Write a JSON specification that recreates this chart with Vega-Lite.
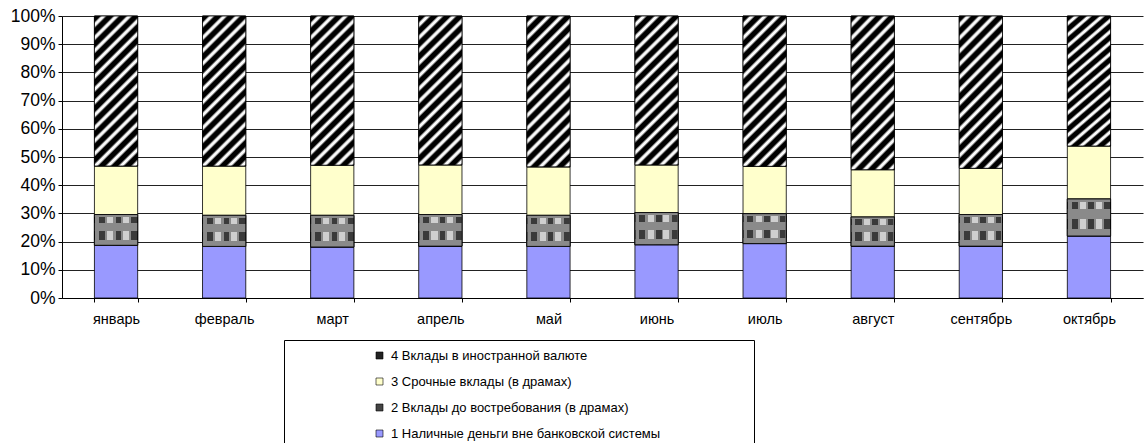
{
  "$schema": "https://vega.github.io/schema/vega-lite/v6.json",
  "width": 1081,
  "height": 282,
  "autosize": {"type": "none"},
  "padding": {"left": 62, "top": 16, "right": 1, "bottom": 145},
  "background": "#ffffff",
  "config": {"view": {"stroke": null}, "font": "Liberation Sans"},
  "data": {"values": [
    {"m": "январь", "k": 1, "s": "1 Наличные деньги вне банковской системы", "v": 18.7},
    {"m": "январь", "k": 2, "s": "2 Вклады до востребования (в драмах)", "v": 10.9},
    {"m": "январь", "k": 3, "s": "3 Срочные вклады (в драмах)", "v": 17.2},
    {"m": "январь", "k": 4, "s": "4 Вклады в иностранной валюте", "v": 53.2},
    {"m": "февраль", "k": 1, "s": "1 Наличные деньги вне банковской системы", "v": 18.3},
    {"m": "февраль", "k": 2, "s": "2 Вклады до востребования (в драмах)", "v": 11.0},
    {"m": "февраль", "k": 3, "s": "3 Срочные вклады (в драмах)", "v": 17.5},
    {"m": "февраль", "k": 4, "s": "4 Вклады в иностранной валюте", "v": 53.2},
    {"m": "март", "k": 1, "s": "1 Наличные деньги вне банковской системы", "v": 18.1},
    {"m": "март", "k": 2, "s": "2 Вклады до востребования (в драмах)", "v": 11.2},
    {"m": "март", "k": 3, "s": "3 Срочные вклады (в драмах)", "v": 17.8},
    {"m": "март", "k": 4, "s": "4 Вклады в иностранной валюте", "v": 52.9},
    {"m": "апрель", "k": 1, "s": "1 Наличные деньги вне банковской системы", "v": 18.4},
    {"m": "апрель", "k": 2, "s": "2 Вклады до востребования (в драмах)", "v": 11.2},
    {"m": "апрель", "k": 3, "s": "3 Срочные вклады (в драмах)", "v": 17.6},
    {"m": "апрель", "k": 4, "s": "4 Вклады в иностранной валюте", "v": 52.8},
    {"m": "май", "k": 1, "s": "1 Наличные деньги вне банковской системы", "v": 18.3},
    {"m": "май", "k": 2, "s": "2 Вклады до востребования (в драмах)", "v": 11.0},
    {"m": "май", "k": 3, "s": "3 Срочные вклады (в драмах)", "v": 17.2},
    {"m": "май", "k": 4, "s": "4 Вклады в иностранной валюте", "v": 53.5},
    {"m": "июнь", "k": 1, "s": "1 Наличные деньги вне банковской системы", "v": 18.9},
    {"m": "июнь", "k": 2, "s": "2 Вклады до востребования (в драмах)", "v": 11.4},
    {"m": "июнь", "k": 3, "s": "3 Срочные вклады (в драмах)", "v": 16.9},
    {"m": "июнь", "k": 4, "s": "4 Вклады в иностранной валюте", "v": 52.8},
    {"m": "июль", "k": 1, "s": "1 Наличные деньги вне банковской системы", "v": 19.3},
    {"m": "июль", "k": 2, "s": "2 Вклады до востребования (в драмах)", "v": 10.6},
    {"m": "июль", "k": 3, "s": "3 Срочные вклады (в драмах)", "v": 16.8},
    {"m": "июль", "k": 4, "s": "4 Вклады в иностранной валюте", "v": 53.3},
    {"m": "август", "k": 1, "s": "1 Наличные деньги вне банковской системы", "v": 18.4},
    {"m": "август", "k": 2, "s": "2 Вклады до востребования (в драмах)", "v": 10.3},
    {"m": "август", "k": 3, "s": "3 Срочные вклады (в драмах)", "v": 16.8},
    {"m": "август", "k": 4, "s": "4 Вклады в иностранной валюте", "v": 54.5},
    {"m": "сентябрь", "k": 1, "s": "1 Наличные деньги вне банковской системы", "v": 18.4},
    {"m": "сентябрь", "k": 2, "s": "2 Вклады до востребования (в драмах)", "v": 11.2},
    {"m": "сентябрь", "k": 3, "s": "3 Срочные вклады (в драмах)", "v": 16.4},
    {"m": "сентябрь", "k": 4, "s": "4 Вклады в иностранной валюте", "v": 54.0},
    {"m": "октябрь", "k": 1, "s": "1 Наличные деньги вне банковской системы", "v": 22.0},
    {"m": "октябрь", "k": 2, "s": "2 Вклады до востребования (в драмах)", "v": 13.1},
    {"m": "октябрь", "k": 3, "s": "3 Срочные вклады (в драмах)", "v": 18.8},
    {"m": "октябрь", "k": 4, "s": "4 Вклады в иностранной валюте", "v": 46.1}
  ]},
  "transform": [
    {"stack": "v", "groupby": ["m"], "sort": [{"field": "k", "order": "ascending"}], "as": ["y0", "y1"]}
  ],
  "encoding": {
    "x": {
      "field": "m", "type": "nominal",
      "sort": ["январь", "февраль", "март", "апрель", "май", "июнь", "июль", "август", "сентябрь", "октябрь"],
      "scale": {"paddingInner": 0.6, "paddingOuter": 0.3},
      "axis": {
        "title": null, "labelAngle": 0, "labelFontSize": 14.5, "labelColor": "#000",
        "labelPadding": 10, "tickBand": "extent", "tickSize": 4, "tickColor": "#000",
        "domainColor": "#000", "grid": false
      }
    },
    "y": {
      "field": "y0", "type": "quantitative",
      "scale": {"domain": [0, 100], "nice": false},
      "axis": {
        "title": null, "values": [0, 10, 20, 30, 40, 50, 60, 70, 80, 90, 100],
        "labelExpr": "datum.value + '%'", "labelFontSize": 17.5, "labelColor": "#000",
        "labelPadding": 3, "tickSize": 4, "tickColor": "#000", "domainColor": "#000",
        "grid": true, "gridColor": "#222", "gridWidth": 1
      }
    },
    "y2": {"field": "y1"}
  },
  "layer": [
    {
      "mark": {"type": "bar", "stroke": "#000", "strokeWidth": 0.8},
      "encoding": {
        "color": {
          "field": "s", "type": "nominal",
          "scale": {
            "domain": ["4 Вклады в иностранной валюте", "3 Срочные вклады (в драмах)", "2 Вклады до востребования (в драмах)", "1 Наличные деньги вне банковской системы"],
            "range": ["#222222", "#ffffcc", "#444444", "#9999ff"]
          },
          "legend": {
            "title": "\u200b\u2003\u2003\u2003\u2003\u2003\u2003\u2003\u2003\u2003\u2003\u2003\u2003\u2003\u2003\u2003\u2003\u2003\u2003\u2003\u2003\u2003\u2003\u2003\u2003\u2003\u2003\u2003\u2003\u2003\u2003\u2003\u2003\u2003\u2003\u2003\u2003\u2003\u2003\u2003\u2003\u2003\u2003\u2003\u2003\u2003\u2003\u2003\u2003\u2003\u2003\u2003\u2003\u2003\u2003\u2003\u2003\u2003\u2003\u2003\u2003\u2003\u2003\u2003\u2003\u2003\u2003\u2003\u2003\u2003\u2003\u2003\u2003\u2003\u2003\u2003\u2003\u2003\u2003\u2003\u2003\u2003\u2003\u2003\u2003\u2003\u2003\u2003\u2003\u2003\u2003\u2003\u2003\u2003\u2003\u2003\u2003\u2003\u2003\u2003\u2003\u2003\u2003\u2003\u2003\u2003\u2003\u2003\u2003\u2003\u2003\u2003\u2003\u2003\u2003\u2003\u200b",
            "titleOrient": "top", "titleFontSize": 4, "titlePadding": 0, "titleLimit": 1000, "titleColor": "#fff",
            "orient": "none", "legendX": 222, "legendY": 324,
            "symbolType": "square", "symbolSize": 49, "symbolStrokeColor": "#000", "symbolStrokeWidth": 0.6,
            "symbolOffset": 84, "labelOffset": 5, "labelLimit": 600,
            "labelFontSize": 13, "labelColor": "#000", "rowPadding": 12,
            "padding": 5, "strokeColor": "#000", "fillColor": "#fff"
          }
        }
      }
    },
    {
      "transform": [{"filter": "datum.k == 4"}],
      "mark": {
        "type": "bar", "stroke": "#000", "strokeWidth": 0.8,
        "fill": {
          "gradient": "linear", "x1": 0, "y1": 0, "x2": 0.341, "y2": 1.189,
          "stops": [
            {"offset": 0, "color": "#000"}, {"offset": 0.028, "color": "#000"}, {"offset": 0.0413, "color": "#fafafa"}, {"offset": 0.0533, "color": "#fafafa"},
            {"offset": 0.0667, "color": "#000"}, {"offset": 0.0947, "color": "#000"}, {"offset": 0.108, "color": "#fafafa"}, {"offset": 0.12, "color": "#fafafa"},
            {"offset": 0.1333, "color": "#000"}, {"offset": 0.1613, "color": "#000"}, {"offset": 0.1747, "color": "#fafafa"}, {"offset": 0.1867, "color": "#fafafa"},
            {"offset": 0.2, "color": "#000"}, {"offset": 0.228, "color": "#000"}, {"offset": 0.2413, "color": "#fafafa"}, {"offset": 0.2533, "color": "#fafafa"},
            {"offset": 0.2667, "color": "#000"}, {"offset": 0.2947, "color": "#000"}, {"offset": 0.308, "color": "#fafafa"}, {"offset": 0.32, "color": "#fafafa"},
            {"offset": 0.3333, "color": "#000"}, {"offset": 0.3613, "color": "#000"}, {"offset": 0.3747, "color": "#fafafa"}, {"offset": 0.3867, "color": "#fafafa"},
            {"offset": 0.4, "color": "#000"}, {"offset": 0.428, "color": "#000"}, {"offset": 0.4413, "color": "#fafafa"}, {"offset": 0.4533, "color": "#fafafa"},
            {"offset": 0.4667, "color": "#000"}, {"offset": 0.4947, "color": "#000"}, {"offset": 0.508, "color": "#fafafa"}, {"offset": 0.52, "color": "#fafafa"},
            {"offset": 0.5333, "color": "#000"}, {"offset": 0.5613, "color": "#000"}, {"offset": 0.5747, "color": "#fafafa"}, {"offset": 0.5867, "color": "#fafafa"},
            {"offset": 0.6, "color": "#000"}, {"offset": 0.628, "color": "#000"}, {"offset": 0.6413, "color": "#fafafa"}, {"offset": 0.6533, "color": "#fafafa"},
            {"offset": 0.6667, "color": "#000"}, {"offset": 0.6947, "color": "#000"}, {"offset": 0.708, "color": "#fafafa"}, {"offset": 0.72, "color": "#fafafa"},
            {"offset": 0.7333, "color": "#000"}, {"offset": 0.7613, "color": "#000"}, {"offset": 0.7747, "color": "#fafafa"}, {"offset": 0.7867, "color": "#fafafa"},
            {"offset": 0.8, "color": "#000"}, {"offset": 0.828, "color": "#000"}, {"offset": 0.8413, "color": "#fafafa"}, {"offset": 0.8533, "color": "#fafafa"},
            {"offset": 0.8667, "color": "#000"}, {"offset": 0.8947, "color": "#000"}, {"offset": 0.908, "color": "#fafafa"}, {"offset": 0.92, "color": "#fafafa"},
            {"offset": 0.9333, "color": "#000"}, {"offset": 0.9613, "color": "#000"}, {"offset": 0.9747, "color": "#fafafa"}, {"offset": 0.9867, "color": "#fafafa"},
            {"offset": 1, "color": "#000"}
          ]
        }
      }
    },
    {
      "transform": [{"filter": "datum.k == 2"}],
      "mark": {
        "type": "bar", "stroke": "#000", "strokeWidth": 0.8,
        "fill": {
          "gradient": "linear", "x1": 0, "y1": 0, "x2": 1, "y2": 0,
          "stops": [
            {"offset": 0, "color": "#8a8a8a"}, {"offset": 0.1, "color": "#8a8a8a"},
            {"offset": 0.1, "color": "#3a3a3a"}, {"offset": 0.24, "color": "#3a3a3a"},
            {"offset": 0.24, "color": "#8a8a8a"}, {"offset": 0.295, "color": "#8a8a8a"},
            {"offset": 0.295, "color": "#cfcfcf"}, {"offset": 0.435, "color": "#cfcfcf"},
            {"offset": 0.435, "color": "#8a8a8a"}, {"offset": 0.488, "color": "#8a8a8a"},
            {"offset": 0.488, "color": "#3a3a3a"}, {"offset": 0.616, "color": "#3a3a3a"},
            {"offset": 0.616, "color": "#8a8a8a"}, {"offset": 0.658, "color": "#8a8a8a"},
            {"offset": 0.658, "color": "#cfcfcf"}, {"offset": 0.798, "color": "#cfcfcf"},
            {"offset": 0.798, "color": "#8a8a8a"}, {"offset": 0.853, "color": "#8a8a8a"},
            {"offset": 0.853, "color": "#3a3a3a"}, {"offset": 0.977, "color": "#3a3a3a"},
            {"offset": 0.977, "color": "#8a8a8a"}, {"offset": 1, "color": "#8a8a8a"}
          ]
        }
      }
    },
    {
      "transform": [{"filter": "datum.k == 2"}],
      "mark": {
        "type": "bar", "stroke": "#000", "strokeWidth": 0.8,
        "fill": {
          "gradient": "linear", "x1": 0, "y1": 0, "x2": 0, "y2": 1,
          "stops": [
            {"offset": 0, "color": "rgba(138,138,138,1)"}, {"offset": 0.07, "color": "rgba(138,138,138,1)"},
            {"offset": 0.07, "color": "rgba(138,138,138,0)"}, {"offset": 0.28, "color": "rgba(138,138,138,0)"},
            {"offset": 0.28, "color": "rgba(138,138,138,1)"}, {"offset": 0.53, "color": "rgba(138,138,138,1)"},
            {"offset": 0.53, "color": "rgba(138,138,138,0)"}, {"offset": 0.82, "color": "rgba(138,138,138,0)"},
            {"offset": 0.82, "color": "rgba(138,138,138,1)"}, {"offset": 1, "color": "rgba(138,138,138,1)"}
          ]
        }
      }
    }
  ]
}
